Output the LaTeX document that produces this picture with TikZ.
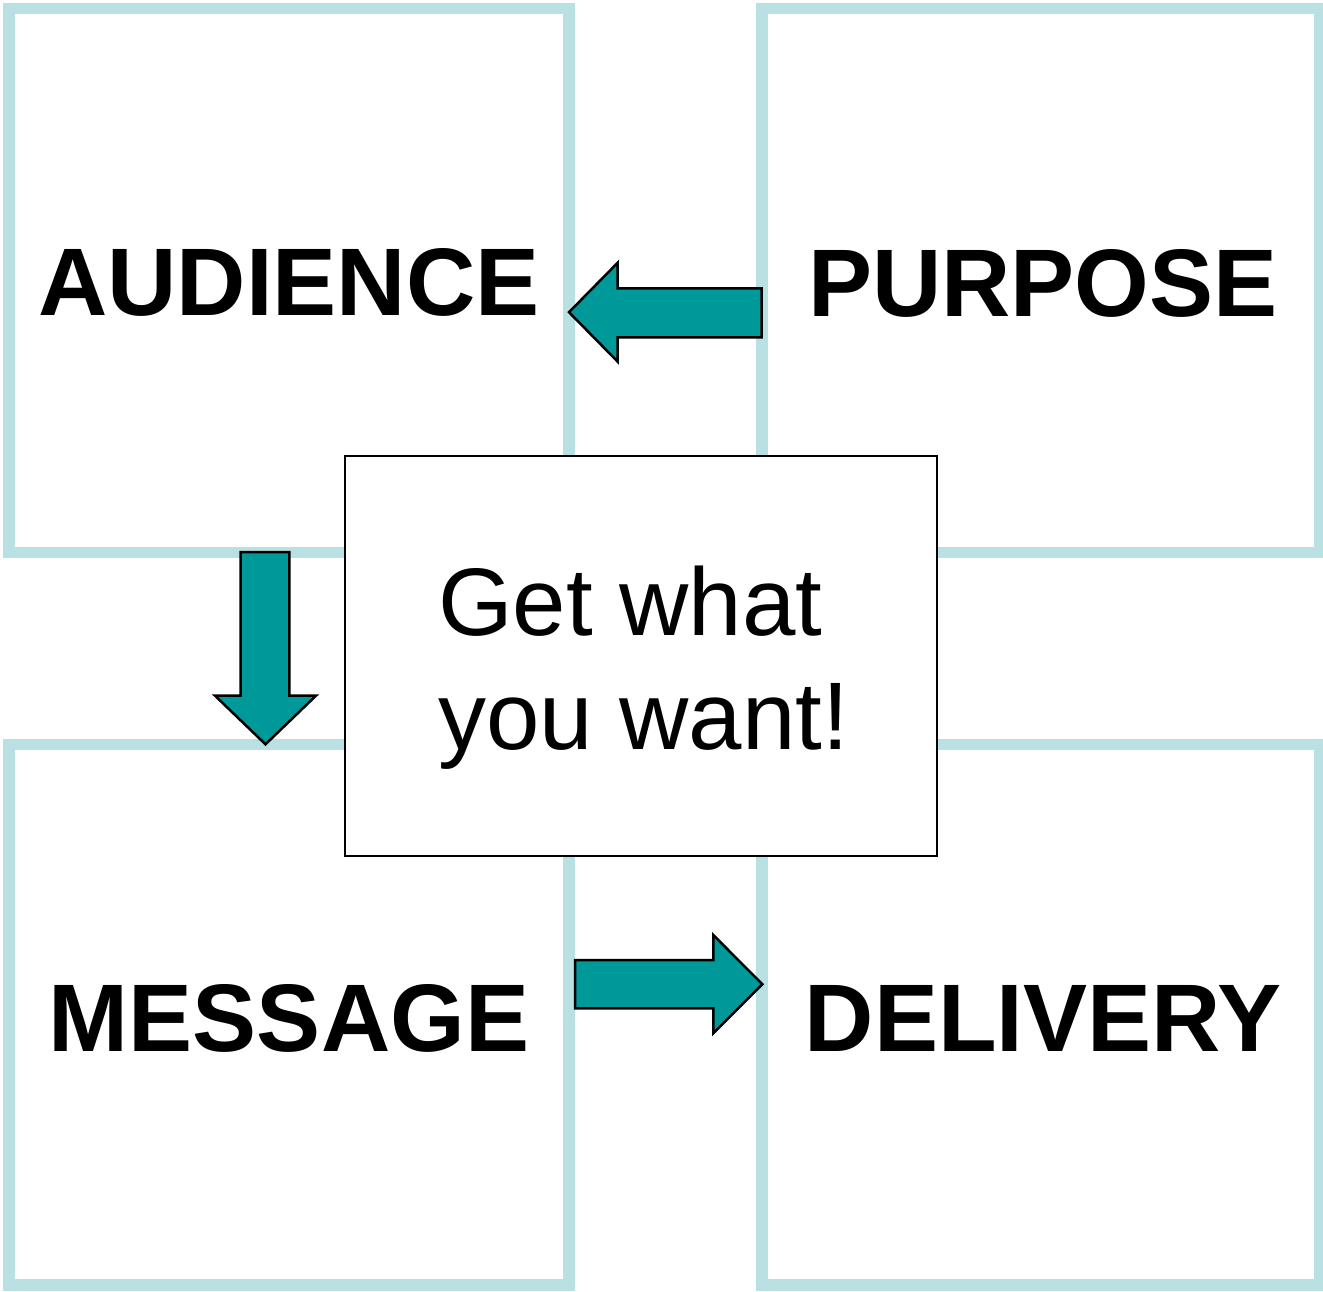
\documentclass[tikz,border=0pt]{standalone}
\usepackage{fontspec}
\setmainfont{Liberation Sans}
\definecolor{framec}{HTML}{B9E0E3}
\definecolor{arrowc}{HTML}{009999}
\begin{document}
\begin{tikzpicture}[x=1pt,y=-1pt,
  frame/.style={draw=framec,line width=11.5pt},
  centerbox/.style={draw=black,fill=white,line width=2pt},
  blockarrow/.style={draw=black,fill=arrowc,line width=2.5pt,line join=miter},
  title/.style={font=\fontsize{96}{114}\selectfont\bfseries,inner sep=0pt,anchor=base}]
\useasboundingbox (0,0) rectangle (1323,1291);
\fill[white] (0,0) rectangle (1323,1291);
% four frames
\draw[frame] (9,8.5) rectangle (569,552.5);
\draw[frame] (762,8.5) rectangle (1320,552.5);
\draw[frame] (9,744.5) rectangle (569,1285);
\draw[frame] (762,744.5) rectangle (1320,1285);
% centre box
\node[centerbox,minimum width=592pt,minimum height=400pt,inner sep=0pt] (goal) at (641,656) {};
\node[inner sep=0pt,anchor=base west] (goaltext) at (438,635)
  {\fontsize{96}{114}\selectfont\vtop{\hbox{Get what}\hbox{you want!}}};
% titles
\node[title] (aud) at (289,315) {AUDIENCE};
\node[title] (pur) at (1043,316) {PURPOSE};
\node[title] (msg) at (289,1051) {MESSAGE};
\node[title] (del) at (1043,1051) {DELIVERY};
% block arrows
\draw[blockarrow] (761.7,288.3) -- (617.7,288.3) -- (617.7,262.7) -- (569,312.2)
  -- (617.7,361.7) -- (617.7,337.3) -- (761.7,337.3) -- cycle;
\draw[blockarrow] (240.7,552) -- (289.3,552) -- (289.3,695.7) -- (316,695.7)
  -- (265.5,744.3) -- (215,695.7) -- (240.7,695.7) -- cycle;
\draw[blockarrow] (575,960) -- (713.3,960) -- (713.3,935) -- (762.3,984.2)
  -- (713.3,1033.3) -- (713.3,1008.3) -- (575,1008.3) -- cycle;
\end{tikzpicture}
\end{document}
